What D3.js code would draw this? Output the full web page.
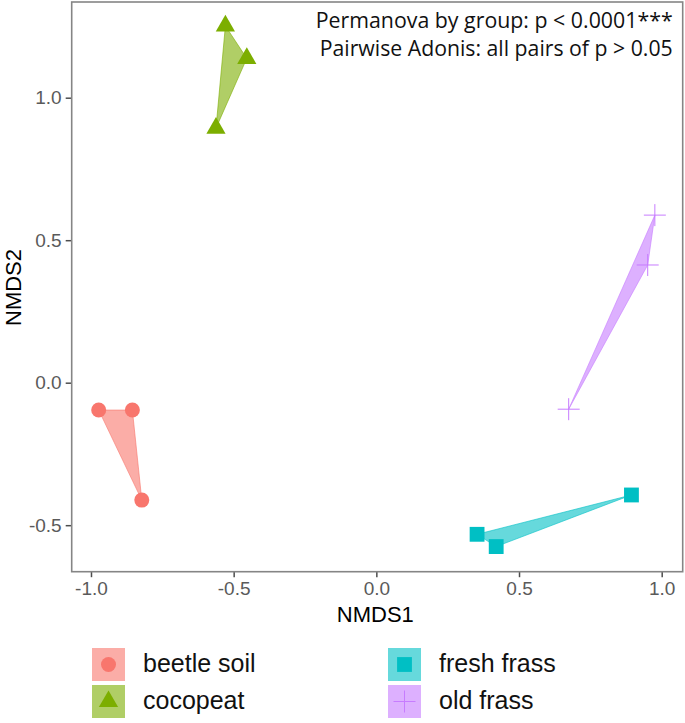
<!DOCTYPE html>
<html>
<head>
<meta charset="utf-8">
<script src="https://cdn.jsdelivr.net/npm/d3@7"></script>
<style>
  body { margin: 0; background: #fff; }
  text { font-family: "Liberation Sans", Arial, sans-serif; }
</style>
</head>
<body>
<div id="chart"></div>
<script>
// groups and their NMDS scores (3 samples each)
var groups = ["beetle soil", "cocopeat", "fresh frass", "old frass"];
var colors = ["#F8766D", "#7CAE00", "#00BFC4", "#C77CFF"];
var nmds1 = {
  "beetle soil": [-0.973, -0.855, -0.822],
  "cocopeat":    [-0.529, -0.454, -0.562],
  "fresh frass": [0.353, 0.420, 0.894],
  "old frass":   [0.976, 0.951, 0.674]
};
var nmds2 = {
  "beetle soil": [-0.096, -0.096, -0.412],
  "cocopeat":    [1.252, 1.138, 0.893],
  "fresh frass": [-0.532, -0.575, -0.394],
  "old frass":   [0.588, 0.413, -0.093]
};
var tickVals = [-1.0, -0.5, 0.0, 0.5, 1.0];
var yTickVals = [-0.5, 0.0, 0.5, 1.0];
var notes = ["Permanova by group: p < 0.0001***", "Pairwise Adonis: all pairs of p > 0.05"];

var W = 685, H = 723;
var margin = {top: 2, right: 2.3, bottom: 151.3, left: 71.7},
    width = W - margin.left - margin.right,
    height = H - margin.top - margin.bottom;

var svg = d3.select("#chart")
  .append("svg")
    .attr("width", W)
    .attr("height", H);

var g = svg.append("g")
    .attr("transform", "translate(" + margin.left + "," + margin.top + ")");

var x = d3.scaleLinear()
  .domain([-1.0676, 1.0736])
  .range([0, width]);
var y = d3.scaleLinear()
  .domain([-0.6632, 1.3358])
  .range([height, 0]);

// axes
var xAxis = g.append("g")
  .attr("transform", "translate(0," + height + ")")
  .call(d3.axisBottom(x).tickValues(tickVals).tickSize(5.5).tickPadding(4));
var yAxis = g.append("g")
  .call(d3.axisLeft(y).tickValues(yTickVals).tickSize(6).tickPadding(4));

[xAxis, yAxis].forEach(function(a) {
  a.select(".domain").remove();
  a.selectAll(".tick line").attr("stroke", "#4d4d4d").attr("stroke-width", 1.5);
  a.selectAll(".tick text")
    .attr("fill", "#5a5a5a")
    .style("font-size", "19px")
    .text(function(d) { return d3.format(".1f")(d).replace("−", "-"); });
});

// panel border
g.append("rect")
  .attr("width", width)
  .attr("height", height)
  .attr("fill", "none")
  .attr("stroke", "#858585")
  .attr("stroke-width", 1.6);

// hulls
groups.forEach(function(grp, i) {
  var pts = nmds1[grp].map(function(v, j) { return [x(v), y(nmds2[grp][j])]; });
  var hull = d3.polygonHull(pts);
  g.append("path")
    .attr("d", "M" + hull.join("L") + "Z")
    .attr("fill", colors[i])
    .attr("fill-opacity", 0.6)
    .attr("stroke", colors[i])
    .attr("stroke-opacity", 0.6)
    .attr("stroke-width", 1);
});

function plusPath(s) {
  return "M" + (-s) + ",0H" + s + "M0," + (-s) + "V" + s;
}

function drawMarker(sel, i) {
  if (i === 0) {
    sel.append("circle").attr("r", 7.5).attr("fill", colors[i]);
  } else if (i === 1) {
    sel.append("path").attr("d", d3.symbol().type(d3.symbolTriangle).size(160)()).attr("fill", colors[i]);
  } else if (i === 2) {
    sel.append("path").attr("d", d3.symbol().type(d3.symbolSquare).size(220)()).attr("fill", colors[i]);
  } else {
    sel.append("path").attr("d", plusPath(11)).attr("stroke", colors[i]).attr("stroke-width", 1).attr("fill", "none");
  }
}

// points
groups.forEach(function(grp, i) {
  nmds1[grp].forEach(function(v, j) {
    var m = g.append("g")
      .attr("transform", "translate(" + x(v) + "," + y(nmds2[grp][j]) + ")");
    drawMarker(m, i);
  });
});

// annotation
notes.forEach(function(t, k) {
  g.append("text")
    .attr("x", width - 10)
    .attr("y", 26 + k * 28)
    .attr("text-anchor", "end")
    .attr("textLength", k === 0 ? 357 : 353)
    .attr("lengthAdjust", "spacingAndGlyphs")
    .style("font-family", "'Open Sans', sans-serif")
    .style("font-size", "21px")
    .attr("fill", "#111")
    .text(t);
});

// axis titles
svg.append("text")
  .attr("x", margin.left + x(0) - 1)
  .attr("y", 621.7)
  .attr("text-anchor", "middle")
  .style("font-size", "22px")
  .text("NMDS1");
svg.append("text")
  .attr("transform", "translate(21," + 287.5 + ") rotate(-90)")
  .attr("text-anchor", "middle")
  .style("font-size", "22px")
  .text("NMDS2");

// legend
var legCols = [92, 388], legRows = [648, 685], key = 33;
groups.forEach(function(grp, i) {
  var lx = legCols[Math.floor(i / 2)], ly = legRows[i % 2];
  var lg = svg.append("g").attr("transform", "translate(" + lx + "," + ly + ")");
  lg.append("rect")
    .attr("width", key)
    .attr("height", key)
    .attr("fill", colors[i])
    .attr("fill-opacity", 0.6);
  var m = lg.append("g").attr("transform", "translate(" + key / 2 + "," + key / 2 + ")");
  drawMarker(m, i);
  lg.append("text")
    .attr("x", 51)
    .attr("y", 24)
    .style("font-size", "25px")
    .attr("fill", "#111")
    .text(grp);
});
</script>
</body>
</html>
